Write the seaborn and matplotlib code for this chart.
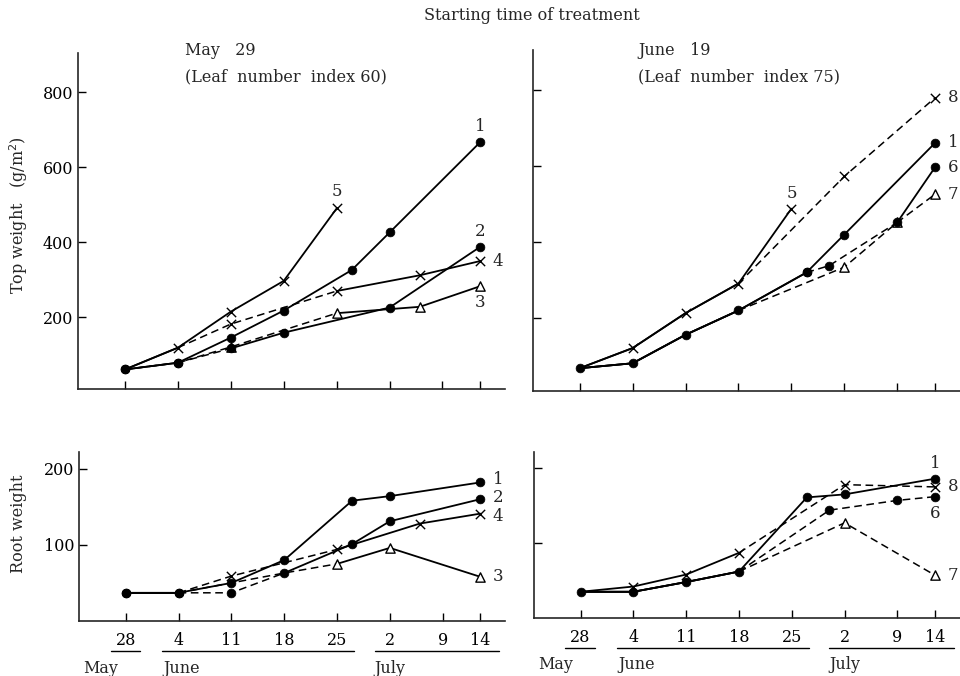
import matplotlib
matplotlib.use('Agg')
import matplotlib.pyplot as plt
import matplotlib.transforms as mtrans
import seaborn as sns
import pandas as pd

sns.set_theme(style='ticks')
plt.rcParams['font.family'] = ['DejaVu Serif', 'DejaVu Sans']

# ---------------- data (x = days counted from May 28) ----------------
tick_days = [0, 7, 14, 21, 28, 35, 42, 47]
tick_labels = ['28', '4', '11', '18', '25', '2', '9', '14']
top_yticks = [200, 400, 600, 800]
root_yticks = [100, 200]

# Top weight, treatment started May 29
tl_days_1 = [0, 7, 14, 21, 30, 35, 47]
tl_vals_1 = [61, 79, 146, 218, 326, 426, 667]
tl_days_2 = [0, 7, 14, 21, 35, 47]
tl_vals_2 = [61, 79, 117, 159, 226, 388]
tl_days_3 = [0, 7, 14, 28, 39, 47]
tl_vals_3 = [61, 79, 121, 211, 228, 283]
tl_days_4 = [0, 7, 14, 28, 39, 47]
tl_vals_4 = [61, 119, 182, 270, 312, 350]
tl_days_5 = [0, 7, 14, 21, 28]
tl_vals_5 = [61, 119, 215, 297, 490]

# Top weight, treatment started June 19
tr_days_1 = [0, 7, 14, 21, 30, 35, 47]
tr_vals_1 = [68, 81, 156, 220, 320, 420, 661]
tr_days_5 = [0, 7, 14, 21, 28]
tr_vals_5 = [68, 121, 213, 291, 488]
tr_days_8 = [0, 7, 14, 21, 35, 47]
tr_vals_8 = [68, 121, 213, 291, 573, 780]
tr_days_6 = [0, 7, 14, 21, 30, 33, 42, 47]
tr_vals_6 = [68, 81, 156, 220, 320, 338, 452, 597]
tr_days_7 = [0, 7, 14, 21, 35, 42, 47]
tr_vals_7 = [68, 81, 156, 220, 334, 452, 526]

# Root weight, treatment started May 29
bl_days_1 = [0, 7, 14, 21, 30, 35, 47]
bl_vals_1 = [37, 37, 50, 80, 158, 164, 182]
bl_days_2 = [0, 7, 14, 21, 30, 35, 47]
bl_vals_2 = [37, 37, 37, 63, 101, 131, 160]
bl_days_3 = [0, 7, 14, 21, 28, 35, 47]
bl_vals_3 = [37, 37, 50, 63, 75, 96, 58]
bl_days_4 = [0, 7, 14, 28, 39, 47]
bl_vals_4 = [37, 37, 59, 94, 128, 141]

# Root weight, treatment started June 19
br_days_1 = [0, 7, 14, 21, 30, 35, 47]
br_vals_1 = [35, 35, 48, 62, 161, 165, 186]
br_days_8 = [0, 7, 14, 21, 35, 47]
br_vals_8 = [35, 42, 58, 87, 178, 175]
br_days_6 = [0, 7, 14, 21, 33, 42, 47]
br_vals_6 = [35, 35, 48, 62, 144, 157, 162]
br_days_7 = [0, 7, 14, 21, 35, 47]
br_vals_7 = [35, 35, 48, 62, 127, 57]

# ---------------- styles ----------------
DASH = (0, (5, 3))
# (name, days, vals, marker, mark_from_day, segments[(start, end, linestyle)], label offset (dx, dy pt))
panels = {
    'tl': [
        ('3', tl_days_3, tl_vals_3, '^', 14, [(0, 28, DASH), (28, 47, '-')], (0, -12)),
        ('4', tl_days_4, tl_vals_4, 'x', 14, [(0, 7, '-'), (7, 28, DASH), (28, 47, '-')], (9, 0)),
        ('5', tl_days_5, tl_vals_5, 'x', 7, [(0, 47, '-')], (0, 12)),
        ('2', tl_days_2, tl_vals_2, 'o', 0, [(0, 7, '-'), (7, 14, DASH), (14, 47, '-')], (0, 11)),
        ('1', tl_days_1, tl_vals_1, 'o', 0, [(0, 47, '-')], (0, 11)),
    ],
    'tr': [
        ('7', tr_days_7, tr_vals_7, '^', 35, [(0, 21, '-'), (21, 47, DASH)], (9, 0)),
        ('8', tr_days_8, tr_vals_8, 'x', 35, [(0, 21, '-'), (21, 47, DASH)], (9, 0)),
        ('5', tr_days_5, tr_vals_5, 'x', 7, [(0, 47, '-')], (0, 11)),
        ('6', tr_days_6, tr_vals_6, 'o', 30, [(0, 30, '-'), (30, 42, DASH), (42, 47, '-')], (9, 0)),
        ('1', tr_days_1, tr_vals_1, 'o', 0, [(0, 47, '-')], (9, 0)),
    ],
    'bl': [
        ('3', bl_days_3, bl_vals_3, '^', 28, [(0, 7, '-'), (7, 28, DASH), (28, 47, '-')], (9, 0)),
        ('4', bl_days_4, bl_vals_4, 'x', 14, [(0, 7, '-'), (7, 28, DASH), (28, 47, '-')], (9, -2)),
        ('2', bl_days_2, bl_vals_2, 'o', 0, [(0, 7, '-'), (7, 21, DASH), (21, 47, '-')], (9, 1.5)),
        ('1', bl_days_1, bl_vals_1, 'o', 0, [(0, 47, '-')], (9, 2)),
    ],
    'br': [
        ('7', br_days_7, br_vals_7, '^', 35, [(0, 21, '-'), (21, 47, DASH)], (9, 0)),
        ('8', br_days_8, br_vals_8, 'x', 7, [(0, 21, '-'), (21, 47, DASH)], (9, 0)),
        ('6', br_days_6, br_vals_6, 'o', 33, [(0, 21, '-'), (21, 47, DASH)], (0, -12)),
        ('1', br_days_1, br_vals_1, 'o', 0, [(0, 47, '-')], (0, 11)),
    ],
}

fig = plt.figure(figsize=(9.6, 6.76), dpi=100)
axes = {
    'tl': fig.add_axes([0.0813, 0.424, 0.445, 0.498]),
    'tr': fig.add_axes([0.555, 0.4216, 0.445, 0.504]),
    'bl': fig.add_axes([0.0823, 0.0814, 0.444, 0.250]),
    'br': fig.add_axes([0.556, 0.0858, 0.444, 0.246]),
}

for key, ax in axes.items():
    for name, days, vals, mk, mfrom, segs, off in panels[key]:
        df = pd.DataFrame({'day': days, 'val': vals})
        for s, e, ls in segs:
            sub = df[(df.day >= s) & (df.day <= e)]
            if len(sub) < 2:
                continue
            sns.lineplot(data=sub, x='day', y='val', ax=ax, color='black',
                         linestyle=ls, linewidth=1.3 if ls == '-' else 1.1,
                         errorbar=None, sort=False, zorder=2)
        pts = df[df.day >= mfrom]
        if mk == 'o':
            sns.scatterplot(data=pts, x='day', y='val', ax=ax, marker='o', s=40,
                            color='black', edgecolor='black', linewidth=0.5, zorder=4)
        elif mk == 'x':
            sns.scatterplot(data=pts, x='day', y='val', ax=ax, marker='x', s=45,
                            color='black', linewidth=1.0, zorder=3)
        else:
            sns.scatterplot(data=pts, x='day', y='val', ax=ax, marker='^', s=45,
                            color='white', edgecolor='black', linewidth=1.0, zorder=3)
        ax.annotate(name, (days[-1], vals[-1]), xytext=off, textcoords='offset points',
                    ha='left' if off[0] > 0 else 'center', va='center', fontsize=12)

    ax.set_xlim(-6.2, 50.3)
    ax.set_xticks(tick_days)
    ax.set_xlabel('')
    ax.set_ylabel('')
    sns.despine(ax=ax)
    ax.spines['left'].set_linewidth(1.2)
    ax.spines['bottom'].set_linewidth(1.2)
    ax.tick_params(direction='in', length=6, width=1.0, labelsize=11.5, colors='black')
    ax.tick_params(axis='x', pad=8)

for key in ('tl', 'tr'):
    axes[key].set_ylim(8, 905)
    axes[key].set_yticks(top_yticks)
    axes[key].set_xticklabels([])
for key in ('bl', 'br'):
    axes[key].set_ylim(0, 222)
    axes[key].set_yticks(root_yticks)
    axes[key].set_xticklabels(tick_labels)
for key in ('tr', 'br'):
    axes[key].set_yticklabels([])
axes['tl'].set_yticklabels([str(v) for v in top_yticks])
axes['bl'].set_yticklabels([str(v) for v in root_yticks])

# month underlines and names
months = [('May', -2.0, 1.9, -5.6), ('June', 4.8, 30.3, 5.0), ('July', 33.0, 49.5, 33.0)]
for key in ('bl', 'br'):
    ax = axes[key]
    tr = mtrans.blended_transform_factory(ax.transData, ax.transAxes)
    for mname, x0, x1, xl in months:
        ax.plot([x0, x1], [-0.18, -0.18], transform=tr, color='black', lw=1.0, clip_on=False)
        ax.text(xl, -0.28, mname, transform=tr, ha='left', va='center', fontsize=11.5)

fig.text(0.554, 0.977, 'Starting time of treatment', ha='center', va='center', fontsize=11.5)
fig.text(0.193, 0.926, 'May   29', ha='left', va='center', fontsize=11.5)
fig.text(0.193, 0.886, '(Leaf  number  index 60)', ha='left', va='center', fontsize=11.5)
fig.text(0.665, 0.926, 'June   19', ha='left', va='center', fontsize=11.5)
fig.text(0.665, 0.886, '(Leaf  number  index 75)', ha='left', va='center', fontsize=11.5)
fig.text(0.019, 0.682, 'Top weight   (g/m$^2$)', rotation=90, ha='center', va='center', fontsize=11.5)
fig.text(0.019, 0.225, 'Root weight', rotation=90, ha='center', va='center', fontsize=11.5)

fig.savefig('out.png', dpi=100, facecolor='white')
